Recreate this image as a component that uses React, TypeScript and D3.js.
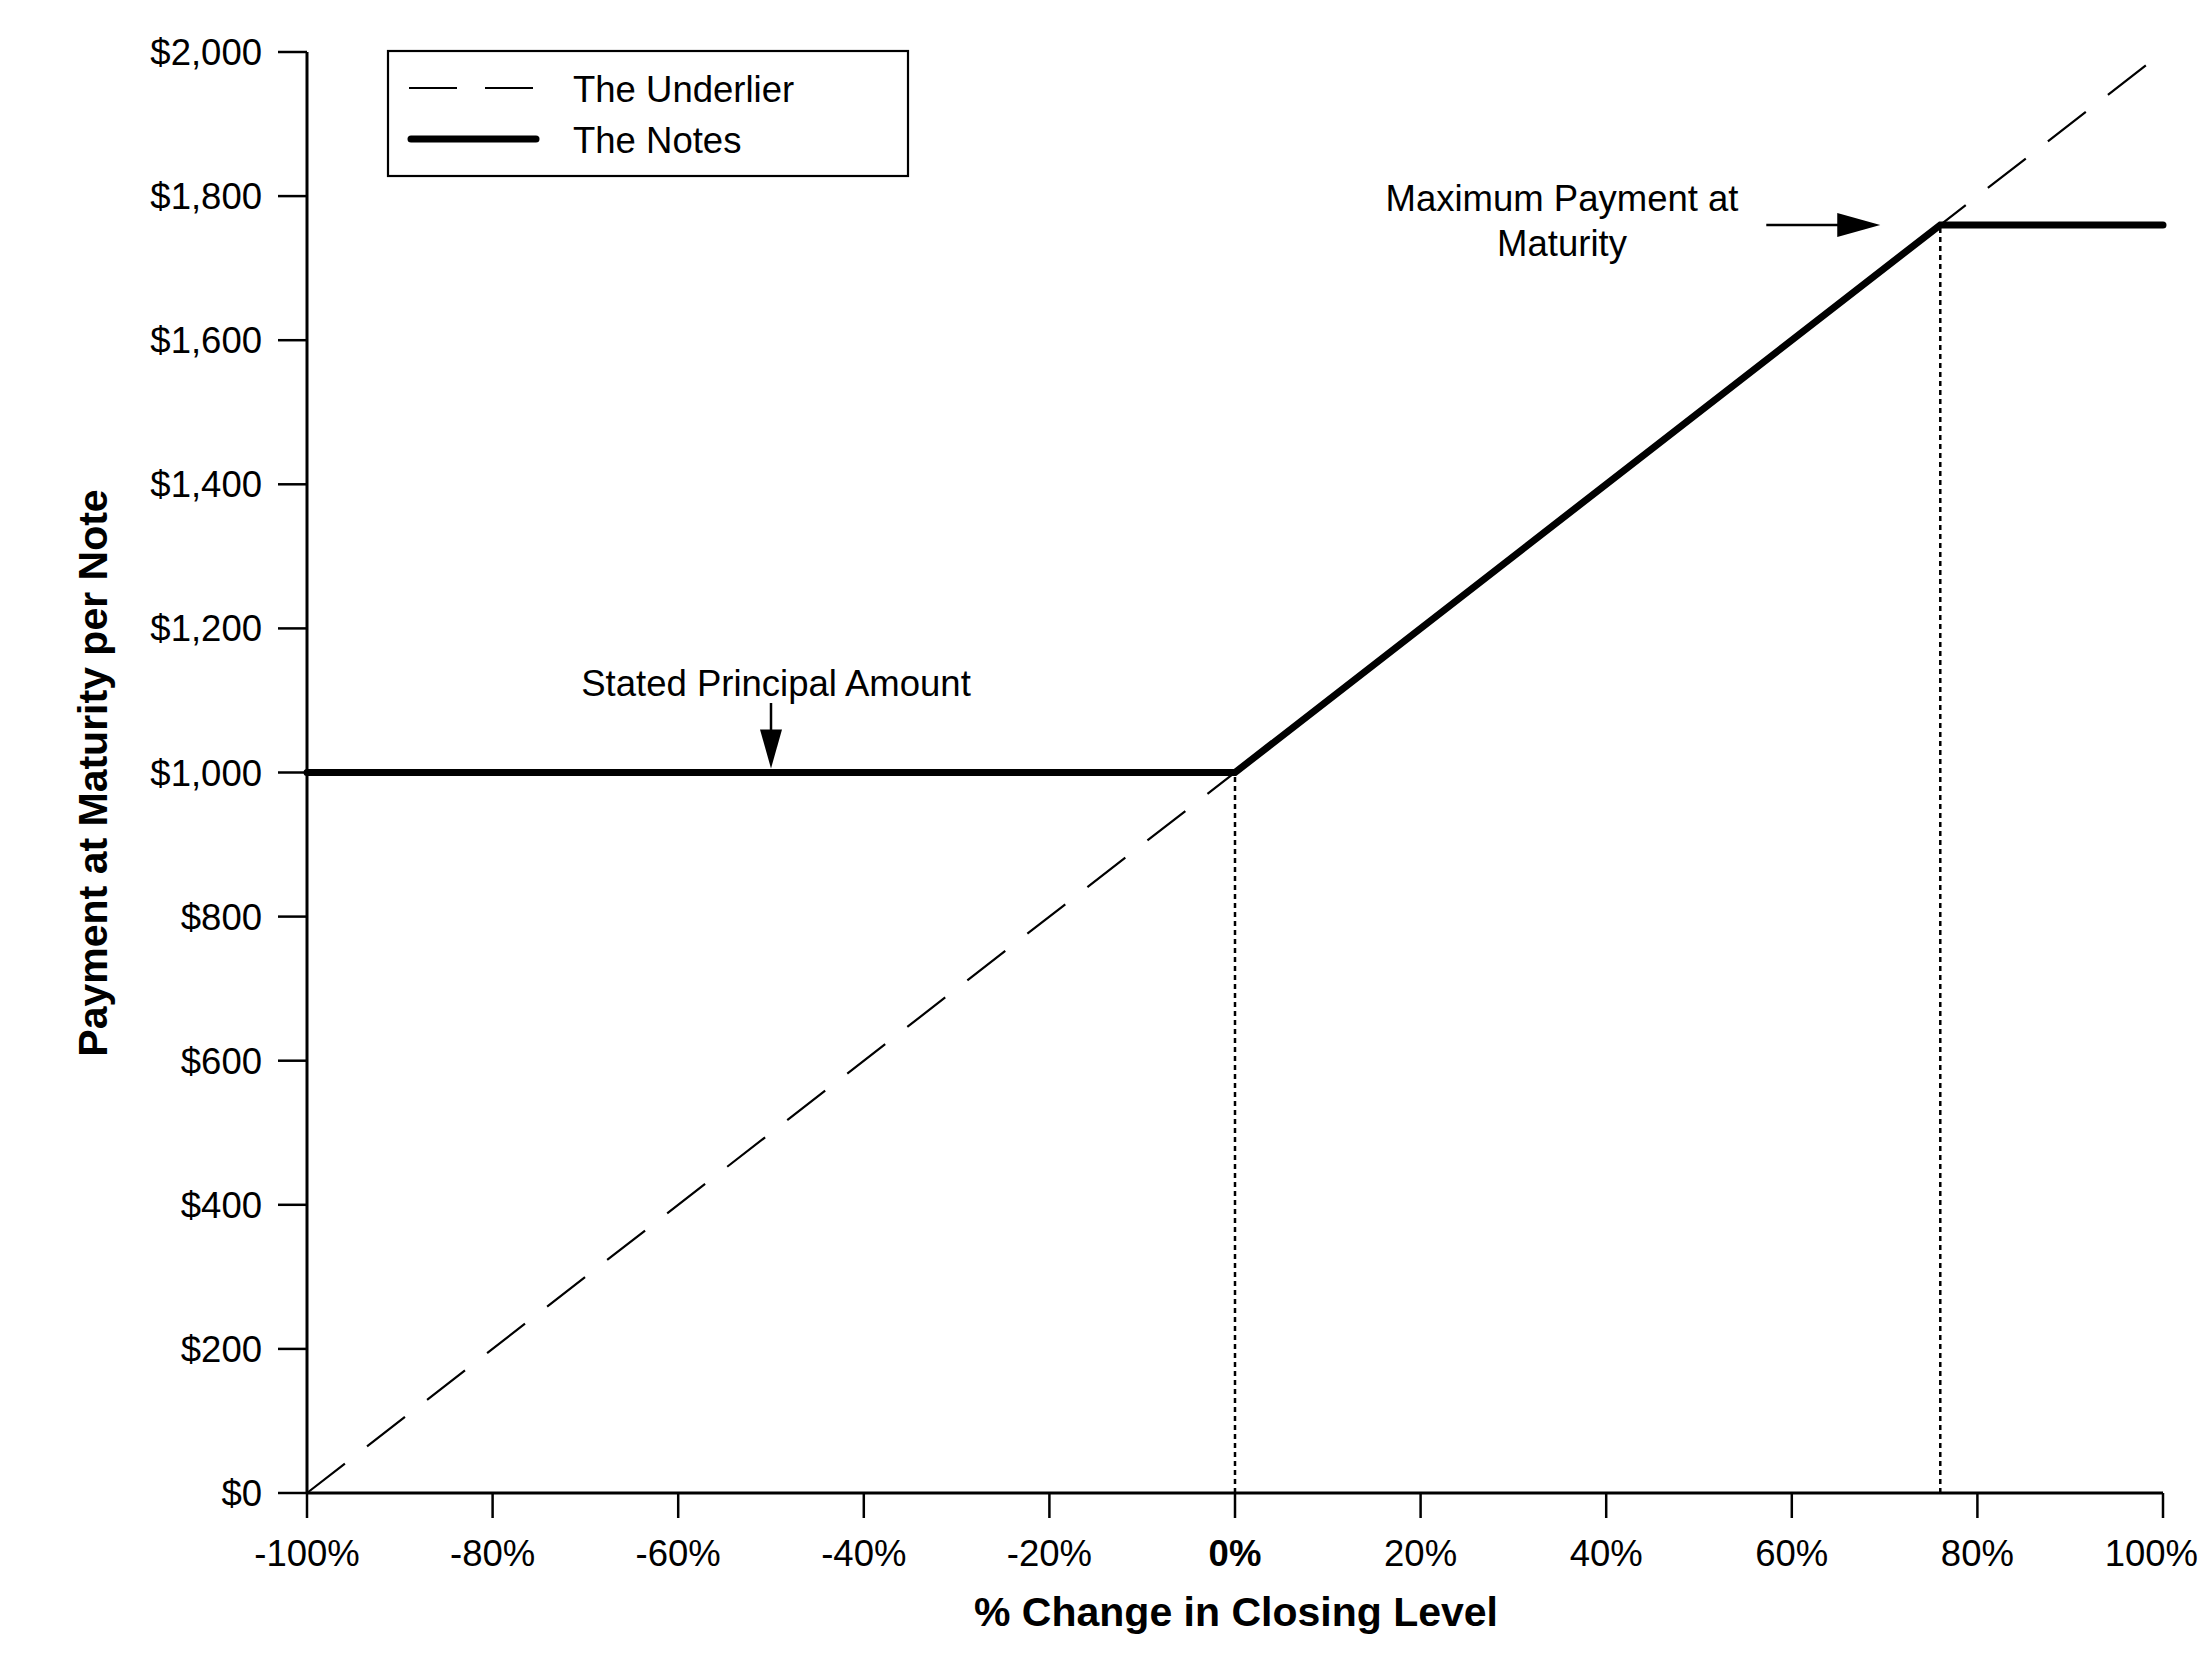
import React from "react";
import * as d3 from "d3";

// ---- data ----
const xTicks: number[] = [-100, -80, -60, -40, -20, 0, 20, 40, 60, 80, 100];
const yTicks: number[] = [0, 200, 400, 600, 800, 1000, 1200, 1400, 1600, 1800, 2000];
const underlierX: number[] = [-100, 100];
const underlierY: number[] = [0, 2000];
const notesX: number[] = [-100, 0, 76, 100];
const notesY: number[] = [1000, 1000, 1760, 1760];
const guideX: number[] = [0, 76];
const guideY: number[] = [1000, 1760];
const seriesNames: string[] = ["The Underlier", "The Notes"];
const principalLabel = "Stated Principal Amount";
const principalX = -50;
const maxLabel: string[] = ["Maximum Payment at", "Maturity"];
const xTitle = "% Change in Closing Level";
const yTitle = "Payment at Maturity per Note";

const W = 2204;
const H = 1664;
const FONT = "'Liberation Sans', Arial, sans-serif";

export default function App() {
  const x = d3.scaleLinear().domain([-100, 100]).range([307, 2163]);
  const y = d3.scaleLinear().domain([0, 2000]).range([1493, 52]);
  const line = d3
    .line<[number, number]>()
    .x((d) => x(d[0]))
    .y((d) => y(d[1]));

  const underlier = line(underlierX.map((v, i) => [v, underlierY[i]] as [number, number])) || "";
  const notes = line(notesX.map((v, i) => [v, notesY[i]] as [number, number])) || "";

  const x0 = x(-100);
  const yBase = y(0);

  // stated principal arrow
  const pax = x(principalX);
  const paTip = y(1000) - 4;
  const paHeadLen = 39;
  const paHalf = 11;

  // maximum payment arrow
  const capY = y(notesY[2]);
  const maTip = x(guideX[1]) - 60;
  const maStart = maTip - 114;
  const maHeadLen = 43;
  const maHalf = 12;

  const lastTick = xTicks[xTicks.length - 1];

  return (
    <svg
      width={W}
      height={H}
      viewBox={`0 0 ${W} ${H}`}
      style={{ position: "absolute", left: 0, top: 0, background: "#fff" }}
      fontFamily={FONT}
    >
      <rect x={0} y={0} width={W} height={H} fill="#fff" />

      {/* dotted guides */}
      {guideX.map((g, i) => (
        <line
          key={"g" + i}
          x1={x(g)}
          x2={x(g)}
          y1={yBase}
          y2={y(guideY[i]) + 3}
          stroke="#000"
          strokeWidth={2.5}
          strokeDasharray="5,4"
        />
      ))}

      {/* underlier */}
      <path d={underlier} fill="none" stroke="#000" strokeWidth={2.2} strokeDasharray="48,28" />

      {/* notes */}
      <path d={notes} fill="none" stroke="#000" strokeWidth={7} strokeLinecap="round" strokeLinejoin="miter" />

      {/* axes */}
      <line x1={x0} x2={x0} y1={y(2000)} y2={yBase} stroke="#000" strokeWidth={3} />
      <line x1={x0} x2={x(100)} y1={yBase} y2={yBase} stroke="#000" strokeWidth={3} />
      {yTicks.map((t) => (
        <g key={"y" + t}>
          <line x1={x0 - 29} x2={x0} y1={y(t)} y2={y(t)} stroke="#000" strokeWidth={2.5} />
          <text x={262} y={y(t) + 13} textAnchor="end" fontSize={36.5} fill="#000">
            {"$" + d3.format(",")(t)}
          </text>
        </g>
      ))}
      {xTicks.map((t) => (
        <g key={"x" + t}>
          <line x1={x(t)} x2={x(t)} y1={yBase} y2={yBase + 25} stroke="#000" strokeWidth={2.5} />
          <text
            x={t === lastTick ? W - 6 : x(t)}
            y={1566}
            textAnchor={t === lastTick ? "end" : "middle"}
            fontSize={36.5}
            fontWeight={t === 0 ? "bold" : "normal"}
            fill="#000"
          >
            {(t < 0 ? "-" + Math.abs(t) : String(t)) + "%"}
          </text>
        </g>
      ))}

      {/* axis titles */}
      <text x={1236} y={1626} textAnchor="middle" fontSize={41} fontWeight="bold" fill="#000">
        {xTitle}
      </text>
      <text
        transform={`translate(107,773) rotate(-90)`}
        textAnchor="middle"
        fontSize={41}
        fontWeight="bold"
        fill="#000"
      >
        {yTitle}
      </text>

      {/* legend */}
      <rect x={388} y={51} width={520} height={125} fill="#fff" stroke="#000" strokeWidth={2.2} />
      <line x1={409} x2={538} y1={88} y2={88} stroke="#000" strokeWidth={2.2} strokeDasharray="48,28" />
      <line x1={411} x2={536} y1={139} y2={139} stroke="#000" strokeWidth={7} strokeLinecap="round" />
      <text x={573} y={102} fontSize={36.5} fill="#000">
        {seriesNames[0]}
      </text>
      <text x={573} y={153} fontSize={36.5} fill="#000">
        {seriesNames[1]}
      </text>

      {/* stated principal annotation */}
      <text x={pax + 5} y={696} textAnchor="middle" fontSize={36.5} fill="#000">
        {principalLabel}
      </text>
      <line x1={pax} x2={pax} y1={703} y2={paTip - paHeadLen + 2} stroke="#000" strokeWidth={2.5} />
      <path
        d={`M${pax - paHalf},${paTip - paHeadLen} L${pax + paHalf},${paTip - paHeadLen} L${pax},${paTip} Z`}
        fill="#000"
      />

      {/* maximum payment annotation */}
      <text x={1562} y={211} textAnchor="middle" fontSize={36.5} fill="#000">
        {maxLabel[0]}
      </text>
      <text x={1562} y={256} textAnchor="middle" fontSize={36.5} fill="#000">
        {maxLabel[1]}
      </text>
      <line x1={maStart} x2={maTip - maHeadLen + 2} y1={capY} y2={capY} stroke="#000" strokeWidth={2.5} />
      <path
        d={`M${maTip - maHeadLen},${capY - maHalf} L${maTip - maHeadLen},${capY + maHalf} L${maTip},${capY} Z`}
        fill="#000"
      />
    </svg>
  );
}
